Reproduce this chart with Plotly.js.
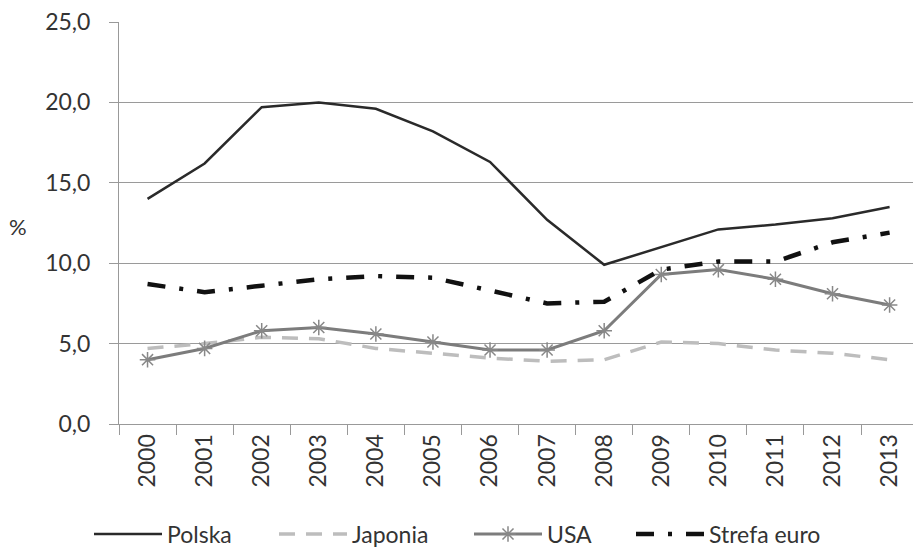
<!DOCTYPE html>
<html>
<head>
<meta charset="utf-8">
<script src="https://cdn.plot.ly/plotly-3.0.1.min.js"></script>
<style>html,body{margin:0;padding:0;background:#fff;}#chart{width:913px;height:552px;}</style>
</head>
<body>
<div id="chart"></div>
<script>
var years = ["2000","2001","2002","2003","2004","2005","2006","2007","2008","2009","2010","2011","2012","2013"];
var polska = [14.0, 16.2, 19.7, 20.0, 19.6, 18.2, 16.3, 12.7, 9.9, 11.0, 12.1, 12.4, 12.8, 13.5];
var japonia = [4.7, 5.0, 5.4, 5.3, 4.7, 4.4, 4.1, 3.9, 4.0, 5.1, 5.0, 4.6, 4.4, 4.0];
var usa = [4.0, 4.7, 5.8, 6.0, 5.6, 5.1, 4.6, 4.6, 5.8, 9.3, 9.6, 9.0, 8.1, 7.4];
var euro = [8.7, 8.2, 8.6, 9.0, 9.2, 9.1, 8.3, 7.5, 7.6, 9.6, 10.1, 10.1, 11.3, 11.9];
var seriesNames = ["Polska", "Japonia", "USA", "Strefa euro"];
var yTicks = [0, 5, 10, 15, 20, 25];

var FONT = "Lato, 'Open Sans', sans-serif";
var traces = [
  {x: years, y: polska, name: seriesNames[0], type: "scatter", mode: "lines", legend: "legend",
   line: {color: "#2a2a2a", width: 2.5}},
  {x: years, y: japonia, name: seriesNames[1], type: "scatter", mode: "lines", legend: "legend2",
   line: {color: "#bdbdbd", width: 3.5, dash: "16px,11px"}},
  {x: years, y: usa, name: seriesNames[2], type: "scatter", mode: "lines+markers", legend: "legend3",
   line: {color: "#7c7c7c", width: 3},
   marker: {symbol: "asterisk-open", size: 13, color: "#888", line: {color: "#888", width: 1.5}}},
  {x: years, y: euro, name: seriesNames[3], type: "scatter", mode: "lines", legend: "legend4",
   line: {color: "#111", width: 4.5, dash: "18px,14px,4px,14px"}}
];

var PL = 119, PW = 794, PB = 424, PH = 402;
function legendAt(px) {
  return {orientation: "h", x: (px - PL) / PW, xanchor: "left", y: (PB - 534) / PH, yanchor: "middle",
          font: {family: FONT, size: 23, color: "#333"}, itemwidth: 68,
          bgcolor: "rgba(0,0,0,0)", borderwidth: 0};
}

var layout = {
  width: 913, height: 552,
  margin: {l: PL, r: 0, t: 22, b: 128, autoexpand: false},
  paper_bgcolor: "#fff", plot_bgcolor: "#fff",
  separators: ", ",
  font: {family: FONT, size: 22, color: "#333"},
  showlegend: true,
  legend: legendAt(89),
  legend2: legendAt(274),
  legend3: legendAt(469),
  legend4: legendAt(631),
  xaxis: {type: "category", range: [-0.5, 13.41], tickangle: -90,
          ticks: "outside", tickson: "boundaries", ticklen: 10, tickcolor: "#999", tickwidth: 1,
          showline: true, linecolor: "#999", linewidth: 1,
          showgrid: false, zeroline: false, automargin: false,
          tickfont: {family: FONT, size: 23, color: "#333"}},
  yaxis: {range: [0, 25], tickvals: yTicks, tickformat: ".1f",
          ticks: "outside", ticklen: 9, tickcolor: "#999", tickwidth: 1,
          ticklabelstandoff: 14, automargin: false,
          showline: true, linecolor: "#999", linewidth: 1,
          showgrid: true, gridcolor: "#9a9a9a", gridwidth: 1, zeroline: false,
          tickfont: {family: FONT, size: 23, color: "#333"}},
  annotations: [
    {text: "%", xref: "paper", yref: "paper", x: (18 - PL) / PW, y: (PB - 227) / PH,
     xanchor: "center", yanchor: "middle", showarrow: false,
     font: {family: FONT, size: 22, color: "#333"}}
  ]
};

Plotly.newPlot("chart", traces, layout, {displayModeBar: false, staticPlot: true});
</script>
</body>
</html>
